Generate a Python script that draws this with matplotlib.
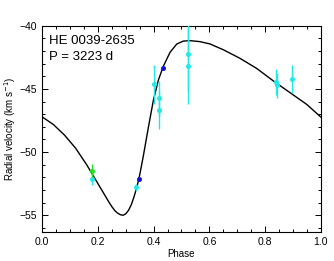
import matplotlib
matplotlib.use("Agg")
import matplotlib.pyplot as plt
from matplotlib.ticker import MultipleLocator

plt.rcParams['font.family'] = ['Liberation Sans', 'DejaVu Sans']

# Orbital solution curve
curve_phase = [0.000, 0.040, 0.080, 0.120, 0.160, 0.200, 0.240, 0.250, 0.260, 0.270,
               0.280, 0.290, 0.300, 0.310, 0.320, 0.330, 0.340, 0.350, 0.363, 0.381,
               0.399, 0.417, 0.435, 0.459, 0.483, 0.506, 0.530, 0.566, 0.602, 0.650,
               0.710, 0.770, 0.830, 0.890, 0.950, 1.000]
curve_rv = [-47.22, -47.82, -48.66, -49.70, -51.02, -52.50, -53.98, -54.32, -54.62, -54.82,
            -54.95, -55.00, -54.88, -54.60, -54.15, -53.50, -52.75, -51.80, -50.30, -48.05,
            -45.90, -44.30, -43.20, -42.10, -41.45, -41.22, -41.18, -41.26, -41.44, -41.90,
            -42.58, -43.38, -44.37, -45.30, -46.23, -47.22]

# Cyan measurements
cyan_phase = [0.177, 0.337, 0.401, 0.418, 0.418, 0.522, 0.522, 0.838, 0.842, 0.898]
cyan_rv = [-52.15, -52.80, -44.65, -45.75, -46.65, -42.20, -43.20, -44.45, -44.72, -44.23]
cyan_err = [0.45, 0.30, 1.55, 1.40, 1.50, 3.00, 3.00, 1.00, 1.00, 1.10]

# Green measurement
green_phase = [0.177]
green_rv = [-51.47]
green_err = [0.50]

# Blue measurements
blue_phase = [0.347, 0.4325]
blue_rv = [-52.13, -43.38]

fig = plt.figure(figsize=(3.34, 2.61), dpi=100)
ax = fig.add_axes([0.1266, 0.1122, 0.8336, 0.7893])

ax.plot(curve_phase, curve_rv, color='black', lw=1.0, zorder=2)

ax.errorbar(cyan_phase, cyan_rv, yerr=cyan_err, fmt='o', color='#1ee8e8',
            ms=3.6, mew=0, elinewidth=1.0, capsize=1.5, capthick=0.8, zorder=3)
ax.errorbar(green_phase, green_rv, yerr=green_err, fmt='o', color='#22e022',
            ms=3.6, mew=0, elinewidth=1.0, capsize=1.5, capthick=0.8, zorder=4)
ax.plot(blue_phase, blue_rv, 'o', color='#1010e0', ms=3.6, mew=0, zorder=5)

ax.set_xlim(0.0, 1.0)
ax.set_ylim(-56.3, -40.0)
ax.xaxis.set_major_locator(MultipleLocator(0.2))
ax.xaxis.set_minor_locator(MultipleLocator(0.05))
ax.yaxis.set_major_locator(MultipleLocator(5))
ax.yaxis.set_minor_locator(MultipleLocator(1))
ax.set_xticklabels([f"{v:.1f}" for v in ax.get_xticks()])
ax.tick_params(which='both', direction='in', top=True, right=True, labelsize=7.5, width=0.7)
ax.tick_params(which='major', length=4, pad=4)
ax.tick_params(which='minor', length=2)
for s in ax.spines.values():
    s.set_linewidth(0.8)

ax.set_xlabel('Phase', fontsize=7, labelpad=1)
ax.set_ylabel('Radial velocity (km s$^{-1}$)', fontsize=7, labelpad=1)

ax.text(0.025, 0.955, 'HE 0039-2635', transform=ax.transAxes, fontsize=9.5,
        ha='left', va='top')
ax.text(0.025, 0.875, 'P = 3223 d', transform=ax.transAxes, fontsize=9.5,
        ha='left', va='top')

fig.savefig('out.png', dpi=100)
